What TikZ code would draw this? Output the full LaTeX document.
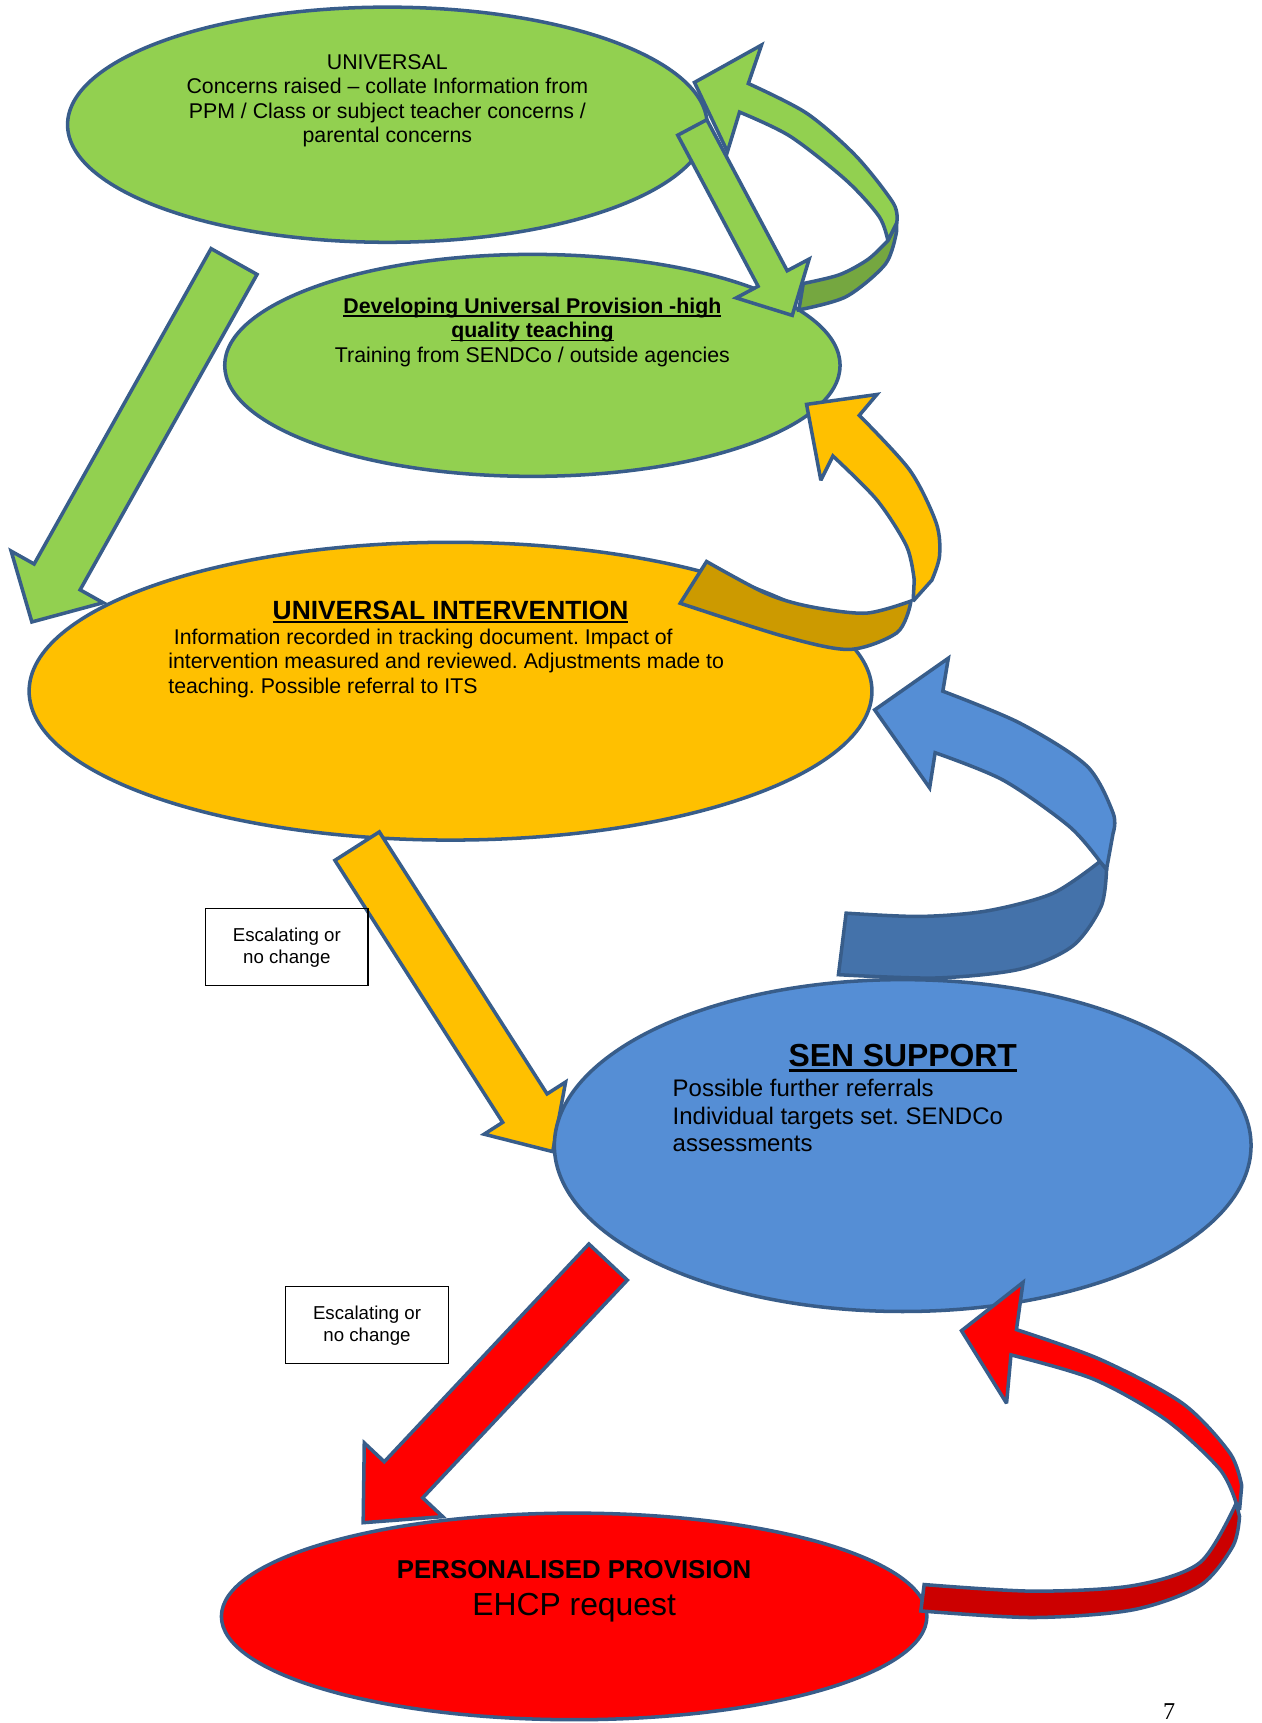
\documentclass[tikz,border=0pt]{standalone}
\usepackage{fontspec}
\setmainfont{Liberation Sans}
\newfontfamily\pagenumfont{Liberation Serif}
\usetikzlibrary{shapes.geometric,calc}
\frenchspacing
\definecolor{rimblue}{RGB}{56,93,138}
\definecolor{grnfill}{RGB}{146,208,80}
\definecolor{grndark}{RGB}{117,167,64}
\definecolor{yelfill}{RGB}{255,192,0}
\definecolor{yeldark}{RGB}{204,154,0}
\definecolor{bluefill}{RGB}{85,142,213}
\definecolor{bluedark}{RGB}{68,114,170}
\definecolor{redfill}{RGB}{255,0,0}
\definecolor{reddark}{RGB}{204,0,0}
\newsavebox{\ulsave}
\newcommand{\ulbox}[1]{\sbox{\ulsave}{#1}\rlap{\usebox{\ulsave}}\rule[-0.16em]{\wd\ulsave}{0.08em}}
\tikzset{
  stageoval/.style={ellipse, draw=rimblue, line width=3.2pt, inner sep=0pt},
  bandline/.style={draw=rimblue, line width=3.2pt, miter limit=3},
  bodytxt/.style={font=\fontsize{19.4}{22.3}\selectfont, inner sep=0pt, align=center},
  notebox/.style={draw=black, line width=1.2pt, minimum width=148pt, minimum height=70pt,
    inner sep=0pt, align=center, font=\fontsize{17}{20}\selectfont}
}
% straight block arrow: tail, tip, half shaft, half head, head length, fill
\newcommand{\blockarrow}[6]{
  \coordinate (bb) at ($(#2)!#5!(#1)$);
  \filldraw[bandline, fill=#6] ($(#1)!#3!90:(#2)$) -- ($(bb)!#3!90:(#2)$) -- ($(bb)!#4!90:(#2)$)
    -- (#2) -- ($(bb)!#4!-90:(#2)$) -- ($(bb)!#3!-90:(#2)$) -- ($(#1)!#3!-90:(#2)$) -- cycle;
}

\begin{document}
\begin{tikzpicture}[x=1pt, y=-1pt]
  \useasboundingbox (0,0) rectangle (1148,1568);

  \node[stageoval, fill=grnfill, minimum width=582pt, minimum height=214pt] (uni) at (352.5,113.5) {};
  \node[stageoval, fill=grnfill, minimum width=560pt, minimum height=202pt] (dev) at (484.5,332.5) {};

  % green loop back up to UNIVERSAL
  \filldraw[bandline, fill=grndark] (808,219)
    -- plot[smooth] coordinates {(808,219) (790,236) (764,250) (731,258)}
    -- (727,282) -- plot[smooth] coordinates {(727,282) (770,270) (806,240) (816,210)}
    -- (816,203) -- cycle;
  \filldraw[bandline, fill=grnfill] (681,76) -- (693,41) -- (632,75) -- (662,138) -- (673,102)
    -- plot[smooth] coordinates {(673,102) (719,124) (770,164) (800,197) (808,219)}
    -- plot[smooth] coordinates {(816,203) (813,185) (779,142) (734,103) (681,76)} -- cycle;

  \coordinate (devTail) at (630,116);
  \coordinate (devTip) at (721,287);
  \blockarrow{devTail}{devTip}{15pt}{37.6pt}{38pt}{grnfill}
  \coordinate (uintTail) at (213,238);
  \coordinate (uintTip) at (29,566);
  \blockarrow{uintTail}{uintTip}{24pt}{48pt}{47pt}{grnfill}

  \node[stageoval, fill=yelfill, minimum width=767pt, minimum height=271pt] (uint) at (410,629) {};

  % yellow loop back up to Developing
  \filldraw[bandline, fill=yeldark] (829,547)
    -- plot[smooth] coordinates {(829,547) (788,558) (737,552) (697,540) (643,511)}
    -- (619,549) -- plot[smooth] coordinates {(619,549) (713,579) (773,591) (816,576) (828,552)}
    -- cycle;
  \filldraw[bandline, fill=yelfill] (782,378) -- (798,359) -- (734,368) -- (747,437) -- (758,415)
    -- plot[smooth] coordinates {(758,415) (798,455) (825,497) (832,528)}
    -- (831,547)
    -- plot[smooth] coordinates {(848,528) (855,506) (852,476) (828,428) (782,378)} -- cycle;

  \coordinate (senTail) at (325,770);
  \coordinate (senTip) at (503,1048);
  \blockarrow{senTail}{senTip}{24pt}{44pt}{47pt}{yelfill}

  \node[stageoval, fill=bluefill, minimum width=634pt, minimum height=302pt] (sen) at (821.5,1042.5) {};

  % blue loop back up to UNIVERSAL INTERVENTION
  \filldraw[bandline, fill=bluedark] (1001,784)
    -- plot[smooth] coordinates {(1001,784) (958,813) (898,829) (837,834) (770,831)}
    -- (763,887) -- plot[smooth] coordinates {(763,887) (852,890) (928,882) (976,861) (1002,825) (1007,791)}
    -- cycle;
  \filldraw[bandline, fill=bluefill] (858,629) -- (863,599) -- (796,646) -- (846,717) -- (851,685)
    -- plot[smooth] coordinates {(851,685) (913,710) (973,752) (1001,784)}
    -- (1007,791)
    -- plot[smooth] coordinates {(1013,758) (1013,740) (989,697) (928,658) (858,629)} -- cycle;

  \coordinate (ppTail) at (553.4,1148.5);
  \coordinate (ppTip) at (330.5,1385.7);
  \blockarrow{ppTail}{ppTip}{24pt}{49pt}{53.6pt}{redfill}

  \node[stageoval, fill=redfill, minimum width=642pt, minimum height=188pt] (pp) at (522.5,1471) {};

  % red loop back up to SEN SUPPORT
  \filldraw[bandline, fill=reddark] (1125,1368)
    -- plot[smooth] coordinates {(1125,1368) (1092,1422) (1031,1443) (940,1448) (841,1442)}
    -- (838,1466) -- plot[smooth] coordinates {(838,1466) (940,1472) (1031,1465) (1092,1443) (1122,1407) (1128,1380)}
    -- cycle;
  \filldraw[bandline, fill=redfill] (925,1210) -- (931,1167) -- (875,1211) -- (916,1277) -- (920,1233)
    -- plot[smooth] coordinates {(920,1233) (995,1255) (1061,1292) (1110,1337) (1125,1368)}
    -- (1128,1374)
    -- plot[smooth] coordinates {(1130,1352) (1119,1322) (1076,1277) (1001,1237) (925,1210)} -- cycle;

  \node[bodytxt] (uni-txt) at ($(uni)+(0,-22)$)
    {UNIVERSAL\\Concerns raised -- collate Information from\\PPM / Class or subject teacher concerns /\\parental concerns};
  \node[bodytxt] (dev-txt) at ($(dev)+(0,-30)$)
    {\ulbox{\textbf{Developing Universal Provision -high}}\\\ulbox{\textbf{quality teaching}}\\Training from SENDCo / outside agencies};

  \node[bodytxt, font=\bfseries\fontsize{24}{28}\selectfont, anchor=base] (uint-head) at (410,563.5)
    {\ulbox{UNIVERSAL INTERVENTION}};
  \node[bodytxt, align=left, anchor=north west, font=\fontsize{19.4}{22.5}\selectfont] (uint-txt) at (153,572)
    {\hspace*{5pt}Information recorded in tracking document. Impact of\\intervention measured and reviewed. Adjustments made to\\teaching. Possible referral to ITS};

  \node[bodytxt, font=\bfseries\fontsize{29}{33}\selectfont, anchor=base] (sen-head) at (821.5,970.5)
    {\ulbox{SEN SUPPORT}};
  \node[bodytxt, align=left, anchor=north west, font=\fontsize{21.8}{25}\selectfont] (sen-txt) at (612,982)
    {Possible further referrals\\Individual targets set. SENDCo\\assessments};

  \node[bodytxt, font=\bfseries\fontsize{23.5}{27}\selectfont, anchor=base] (pp-head) at (522.5,1436.5)
    {PERSONALISED PROVISION};
  \node[bodytxt, font=\fontsize{29}{33}\selectfont, anchor=base] (pp-txt) at (522.5,1470.5)
    {EHCP request};

  \node[notebox] (esc1) at (261,862) {Escalating or\\no change};
  \node[notebox] (esc2) at (334,1206) {Escalating or\\no change};

  \node[font=\pagenumfont\fontsize{22}{24}\selectfont, anchor=north, inner sep=0pt] (pgnum) at (1064,1550) {7};
\end{tikzpicture}
\end{document}
